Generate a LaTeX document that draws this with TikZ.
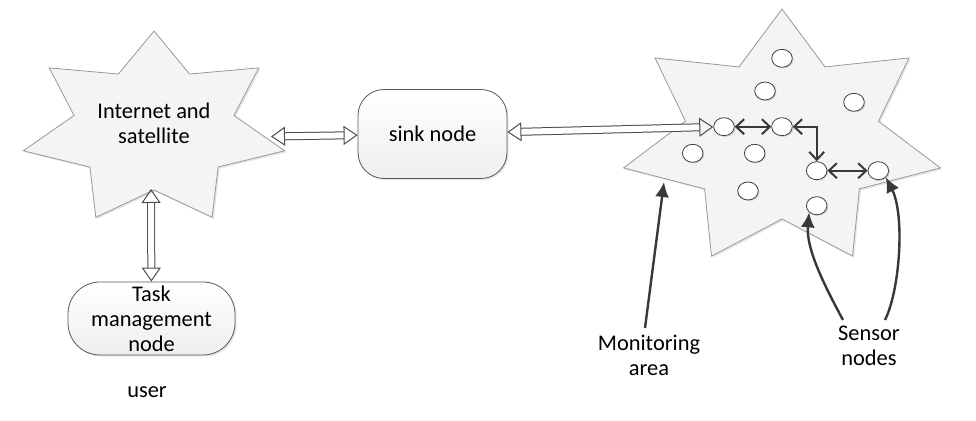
\documentclass[tikz,border=0pt]{standalone}
\usepackage{fontspec}
\setmainfont{Carlito}
\usetikzlibrary{positioning,arrows.meta,shadows,shapes.geometric}

\begin{document}
\begin{tikzpicture}[
    x=0.5pt, y=-0.5pt,
    font=\fontsize{11.2}{12.5}\selectfont,
    area/.style = {
      draw = gray!80,
      fill = gray!9,
      line join = miter,
      drop shadow = {opacity = .2, shadow xshift = .8pt, shadow yshift = -.8pt}
    },
    box/.style = {
      draw = gray!70!black,
      top color = white,
      bottom color = gray!13,
      rounded corners = 13pt,
      align = center,
      inner sep = 0pt,
      drop shadow = {opacity = .2, shadow xshift = .8pt, shadow yshift = -.8pt}
    },
    sensor/.style = {
      draw = black!75,
      fill = white,
      ellipse,
      inner sep = 0pt,
      minimum width = 10.3pt,
      minimum height = 9pt,
      drop shadow = {opacity = .25, shadow xshift = .6pt, shadow yshift = -.6pt}
    },
    link/.style = {
      draw = black!70,
      line width = .5pt,
      double = white,
      double distance = 3pt,
      {Triangle[open, length = 7pt, width = 9.5pt]}-{Triangle[open, length = 7pt, width = 9.5pt]}
    },
    hop/.style = {
      draw = black!78,
      line width = 1pt,
      {Straight Barb[length = 4pt, width = 7.5pt]}-{Straight Barb[length = 4pt, width = 7.5pt]}
    },
    pointer/.style = {
      draw = black!78,
      line width = 1.2pt,
      -{Latex[length = 7.5pt, width = 7pt]}
    }
  ]
  \useasboundingbox (0,0) rectangle (976,421);

  % seven-pointed areas
  \draw[area, shift = {(154,129)}] (-90:134 and 98)
    \foreach \i in {1,...,7} { -- ({-90+\i*360/7-180/7}:82 and 61) -- ({-90+\i*360/7}:134 and 98) } -- cycle;
  \draw[area, shift = {(782,139)}] (-90:162.5 and 130)
    \foreach \i in {1,...,7} { -- ({-90+\i*360/7-180/7}:99 and 80) -- ({-90+\i*360/7}:162.5 and 130) } -- cycle;

  \node[align = center] (inet) at (154,123) {Internet and\\satellite};
  \coordinate (inetE) at (271,136.5);
  \coordinate (inetS) at (151,189);

  \node[box, minimum width = 74.5pt, minimum height = 44.5pt] (sink) at (432.5,134) {sink node};
  \node[box, rounded corners = 16pt, minimum width = 83.5pt, minimum height = 36.5pt] (task) at (151.5,318.5) {Task\\management\\node};
  \node (user) at (147,392) {user};

  \foreach \name/\pos in {s1/{782,58.3}, s2/{765,91}, s3/{854,102.3}, s4/{724,126.7},
                          s5/{782,126.7}, s6/{692.7,153.3}, s7/{754.7,153.3}, s8/{816.7,170.7},
                          s9/{878.3,170.7}, s10/{748,191}, s11/{816.7,205.7}}
    \node[sensor] (\name) at (\pos) {};

  \draw[link] (inetE) -- (sink);
  \draw[link] (inetS) -- (task);
  \draw[link] (sink) -- (s4);

  \draw[hop] (s4) -- (s5);
  \draw[hop] (s5) -| (s8);
  \draw[hop] (s8) -- (s9);

  \node[align = center] (monitor) at (649,355.5) {Monitoring\\area};
  \node[align = center] (sensors) at (869,346) {Sensor\\nodes};
  \coordinate (monfoot) at (645,328);
  \coordinate (areatip) at (664,182);
  \coordinate (sfootA) at (843,320);
  \coordinate (sfootB) at (885,320);
  \draw[pointer] (monfoot) -- (areatip);
  \draw[pointer] (sfootA) .. controls (823,283) and (806,248) .. (s11.south west);
  \draw[pointer] (sfootB) .. controls (900,290) and (905,215) .. (s9.south east);
\end{tikzpicture}
\end{document}
